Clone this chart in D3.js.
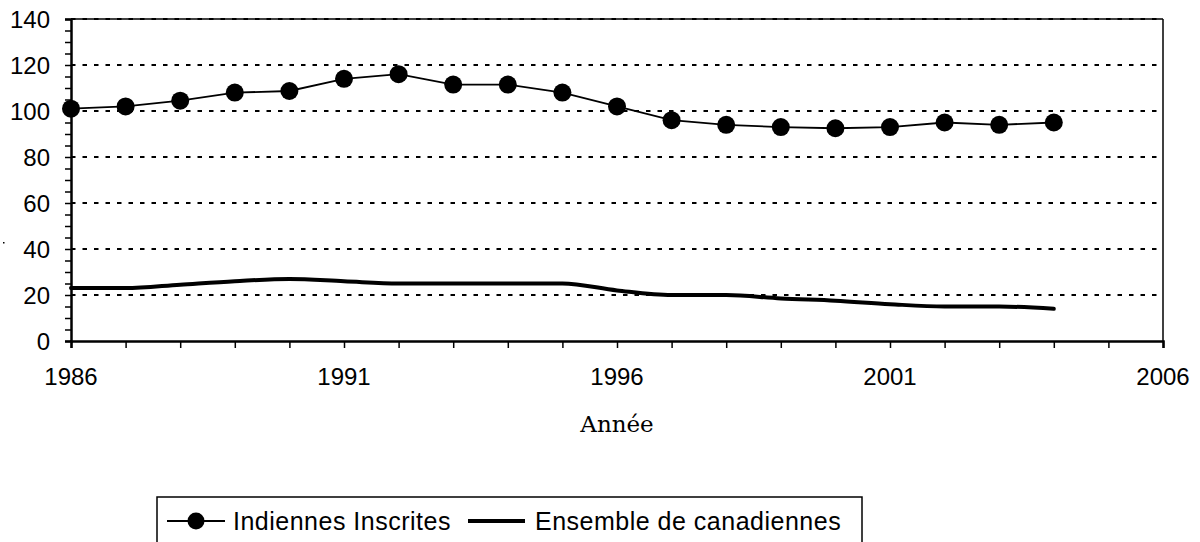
<!DOCTYPE html>
<html>
<head>
<meta charset="utf-8">
<script src="https://cdn.jsdelivr.net/npm/d3@7"></script>
<style>
  body { margin: 0; background: #fff; }
  svg { display: block; }
</style>
</head>
<body>
<div id="chart"></div>
<script>
// donnees
var years = [1986, 1987, 1988, 1989, 1990, 1991, 1992, 1993, 1994, 1995,
             1996, 1997, 1998, 1999, 2000, 2001, 2002, 2003, 2004];
var indiennes = [101, 102, 104.5, 108, 108.7, 114, 116, 111.5, 111.5, 108,
                 102, 96, 94, 93, 92.5, 93, 95, 94, 95];
var ensemble = [23, 23, 24.5, 26, 27, 26, 25, 25, 25, 25,
                22, 20, 20, 18.5, 17.5, 16, 15, 15, 14];
var yTicks = [0, 20, 40, 60, 80, 100, 120, 140];
var xTicks = [1986, 1991, 1996, 2001, 2006];
var seriesNames = ["Indiennes Inscrites", "Ensemble de canadiennes"];

var W = 1200, H = 542;
var margin = {top: 19, right: 37, bottom: 201, left: 71};
var width = W - margin.left - margin.right,
    height = H - margin.top - margin.bottom;

var sans = "Liberation Sans, Arial, sans-serif";

var svg = d3.select("#chart").append("svg")
    .attr("width", W)
    .attr("height", H);

var g = svg.append("g")
    .attr("transform", "translate(" + margin.left + "," + margin.top + ")");

var x = d3.scaleLinear().domain([1986, 2006]).range([0, width]);
var y = d3.scaleLinear().domain([0, 140]).range([height, 0]);

// grille pointillee
g.selectAll(".grid")
    .data(yTicks.filter(function(d) { return d > 0; }))
    .enter().append("line")
    .attr("x1", 0).attr("x2", width)
    .attr("y1", function(d) { return y(d); })
    .attr("y2", function(d) { return y(d); })
    .attr("stroke", "#000")
    .attr("stroke-width", 2.2)
    .attr("stroke-dasharray", "4.5,7");

// cadre haut et droite
g.append("line").attr("x1", 0).attr("x2", width).attr("y1", 0).attr("y2", 0)
    .attr("stroke", "#000").attr("stroke-width", 1.5);
g.append("line").attr("x1", width).attr("x2", width).attr("y1", 0).attr("y2", height)
    .attr("stroke", "#000").attr("stroke-width", 1.5);

// axe Y : graduations mineures tous les 5
var yAxis = g.append("g")
    .call(d3.axisLeft(y).tickValues(d3.range(0, 141, 5)).tickSize(6).tickFormat(""));
yAxis.select(".domain").attr("stroke-width", 2.5);
yAxis.selectAll(".tick line").attr("stroke-width", 1.5);

g.selectAll(".ylab")
    .data(yTicks)
    .enter().append("text")
    .attr("x", -21)
    .attr("y", function(d) { return y(d); })
    .attr("dy", "0.36em")
    .attr("text-anchor", "end")
    .attr("font-family", sans)
    .attr("font-size", "24px")
    .text(function(d) { return d; });

// axe X : une graduation par an
var xAxis = g.append("g")
    .attr("transform", "translate(0," + height + ")")
    .call(d3.axisBottom(x).tickValues(d3.range(1986, 2007, 1)).tickSize(7).tickFormat(""));
xAxis.select(".domain").attr("stroke-width", 2.5);
xAxis.selectAll(".tick line").attr("stroke-width", 1.5);

g.selectAll(".xlab")
    .data(xTicks)
    .enter().append("text")
    .attr("x", function(d) { return x(d); })
    .attr("y", height + 44)
    .attr("text-anchor", "middle")
    .attr("font-family", sans)
    .attr("font-size", "24px")
    .text(function(d) { return d; });

g.append("text")
    .attr("x", width / 2)
    .attr("y", height + 91)
    .attr("text-anchor", "middle")
    .attr("font-family", "DejaVu Serif, serif")
    .attr("font-size", "23px")
    .text("Année");

// petite marque du titre Y (tronque)
svg.append("rect").attr("x", 3).attr("y", 242).attr("width", 1.5).attr("height", 1.5).attr("fill", "#000");

// courbes
var ptsInd = years.map(function(d, i) { return [d, indiennes[i]]; });
var ptsEns = years.map(function(d, i) { return [d, ensemble[i]]; });

var lineStraight = d3.line()
    .x(function(d) { return x(d[0]); })
    .y(function(d) { return y(d[1]); });
var lineSmooth = d3.line()
    .curve(d3.curveMonotoneX)
    .x(function(d) { return x(d[0]); })
    .y(function(d) { return y(d[1]); });

g.append("path")
    .attr("d", lineSmooth(ptsEns))
    .attr("fill", "none")
    .attr("stroke", "#000")
    .attr("stroke-width", 4)
    .attr("stroke-linecap", "round");

g.append("path")
    .attr("d", lineStraight(ptsInd))
    .attr("fill", "none")
    .attr("stroke", "#000")
    .attr("stroke-width", 1.8);

g.selectAll(".pt")
    .data(ptsInd)
    .enter().append("circle")
    .attr("cx", function(d) { return x(d[0]); })
    .attr("cy", function(d) { return y(d[1]); })
    .attr("r", 9)
    .attr("fill", "#000");

// legende (le bas du cadre sort de l'image)
var leg = svg.append("g").attr("transform", "translate(157,497)");
leg.append("rect")
    .attr("width", 705).attr("height", 60)
    .attr("fill", "#fff").attr("stroke", "#000").attr("stroke-width", 1.5);

leg.append("line").attr("x1", 10).attr("x2", 68).attr("y1", 24).attr("y2", 24)
    .attr("stroke", "#000").attr("stroke-width", 1.8);
leg.append("circle").attr("cx", 39).attr("cy", 24).attr("r", 8.5).attr("fill", "#000");
leg.append("text").attr("x", 76).attr("y", 33)
    .attr("font-family", sans)
    .attr("font-size", "25px")
    .attr("letter-spacing", "0.5px")
    .text(seriesNames[0]);

leg.append("line").attr("x1", 311).attr("x2", 368).attr("y1", 24).attr("y2", 24)
    .attr("stroke", "#000").attr("stroke-width", 4);
leg.append("text").attr("x", 378).attr("y", 33)
    .attr("font-family", sans)
    .attr("font-size", "25px")
    .attr("letter-spacing", "0.5px")
    .text(seriesNames[1]);
</script>
</body>
</html>
